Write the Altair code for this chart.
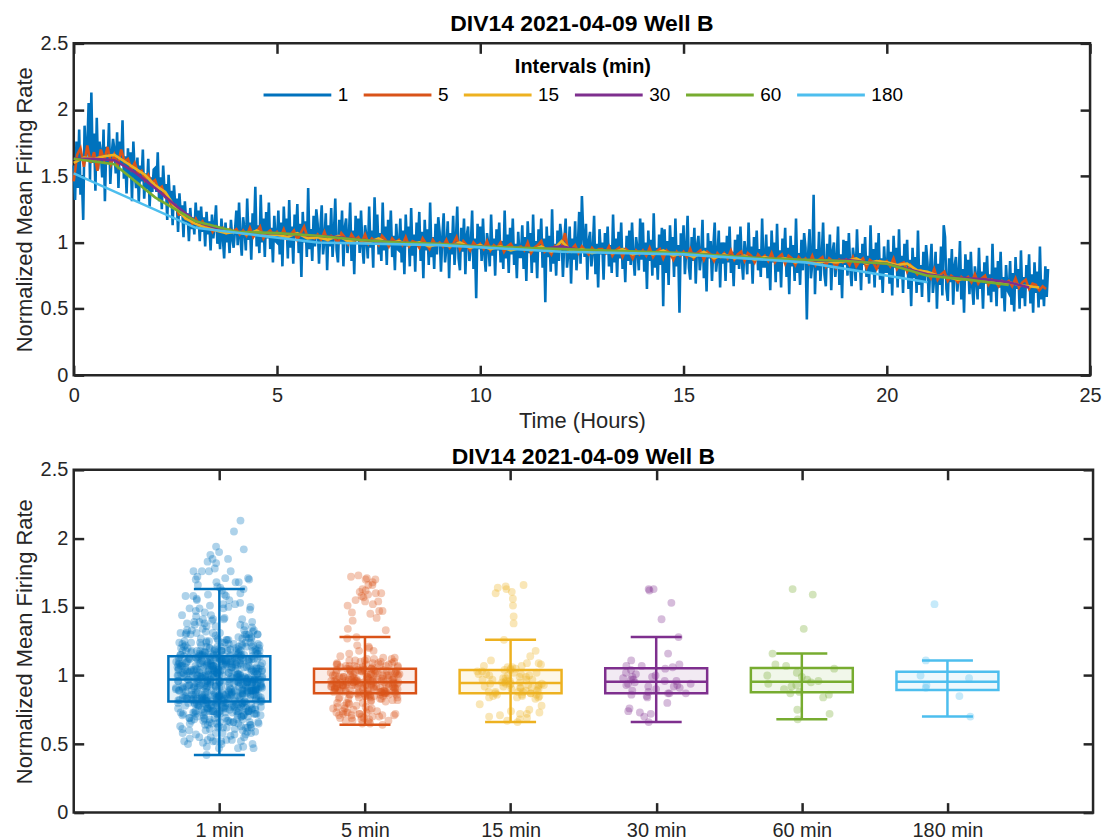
import altair as alt
import pandas as pd

FONT = "Liberation Sans"
AX = "#262626"

# ---------------- data ----------------
interval_labels = ["1", "5", "15", "30", "60", "180"]
box_labels = ["1 min", "5 min", "15 min", "30 min", "60 min", "180 min"]
sample_minutes = [2, 5, 15, 30, 60, 180]
colors = ["#0072BD", "#D95319", "#EDB120", "#7E2F8E", "#77AC30", "#4DBEEE"]
x_ticks_top = [0, 5, 10, 15, 20, 25]
y_ticks = [0, 0.5, 1, 1.5, 2, 2.5]
title_text = "DIV14 2021-04-09 Well B"

# normalized mean firing rate, in hundredths
mfr_1min = [
    158, 132, 176, 141, 185, 136, 150, 117, 188, 162, 171, 205, 147, 213, 160, 182, 139, 194, 155, 176, 168, 149, 185, 131, 172, 159, 190, 144, 166, 178,
    170, 152, 183, 141, 176, 159, 192, 148, 165, 137, 171, 150, 168, 131, 176, 153, 141, 164, 130, 158, 146, 170, 133, 152, 140, 163, 127, 149, 138, 155,
    156, 138, 168, 131, 149, 125, 158, 139, 144, 117, 151, 131, 139, 113, 143, 126, 133, 108, 137, 120, 128, 104, 131, 115, 122, 101, 126, 110, 119, 106,
    130, 112, 124, 101, 127, 108, 119, 97, 123, 106, 116, 94, 121, 103, 113, 128, 99, 111, 95, 118, 104, 88, 115, 100, 110, 92, 117, 103, 96, 109,
    124, 98, 130, 104, 90, 119, 110, 94, 133, 102, 115, 87, 122, 106, 142, 97, 113, 92, 136, 100, 118, 89, 123, 103, 130, 95, 111, 85, 120, 101,
    100, 124, 91, 115, 82, 127, 103, 118, 88, 132, 96, 112, 84, 121, 104, 129, 92, 114, 74, 123, 100, 116, 89, 141, 95, 110, 86, 120, 97, 125,
    114, 84, 110, 128, 91, 102, 122, 79, 113, 97, 126, 89, 107, 133, 94, 85, 117, 99, 124, 82, 111, 118, 92, 103, 130, 86, 109, 76, 120, 101,
    118, 92, 124, 98, 84, 113, 104, 88, 127, 96, 109, 81, 134, 100, 121, 91, 107, 86, 130, 94, 112, 83, 117, 97, 124, 89, 105, 79, 114, 95,
    94, 118, 85, 109, 76, 121, 97, 112, 82, 126, 90, 106, 78, 115, 98, 123, 86, 108, 73, 117, 94, 110, 83, 130, 89, 104, 80, 114, 91, 119,
    108, 78, 104, 122, 85, 96, 116, 73, 107, 91, 120, 83, 101, 127, 88, 79, 111, 93, 118, 76, 105, 112, 86, 97, 124, 80, 103, 58, 114, 95,
    112, 86, 118, 92, 78, 107, 98, 82, 121, 90, 103, 75, 110, 94, 115, 85, 101, 80, 124, 88, 106, 77, 111, 91, 118, 83, 99, 73, 108, 89,
    89, 113, 80, 104, 71, 116, 92, 107, 77, 121, 85, 101, 73, 110, 93, 118, 81, 103, 55, 112, 89, 105, 78, 125, 84, 99, 75, 109, 86, 114,
    104, 74, 100, 118, 81, 92, 112, 69, 103, 87, 116, 79, 97, 123, 84, 135, 107, 89, 114, 72, 101, 108, 82, 93, 120, 76, 99, 66, 110, 91,
    100, 72, 107, 91, 112, 82, 98, 77, 121, 85, 103, 74, 108, 88, 115, 80, 96, 70, 105, 86, 109, 83, 115, 89, 75, 104, 95, 79, 118, 87,
    115, 78, 100, 65, 109, 86, 102, 75, 122, 81, 96, 72, 106, 83, 111, 52, 110, 77, 101, 68, 113, 89, 104, 74, 118, 82, 98, 47, 107, 90,
    113, 76, 94, 120, 81, 72, 104, 86, 111, 69, 98, 105, 79, 90, 117, 73, 96, 63, 107, 88, 101, 71, 97, 115, 78, 89, 109, 66, 100, 84,
    100, 71, 105, 85, 112, 77, 93, 67, 102, 83, 106, 80, 112, 86, 72, 101, 92, 76, 115, 84, 97, 69, 104, 88, 109, 79, 95, 74, 118, 82,
    82, 106, 73, 97, 64, 109, 85, 100, 70, 114, 78, 94, 66, 103, 86, 111, 74, 96, 61, 105, 82, 98, 71, 118, 77, 92, 68, 102, 79, 107,
    96, 42, 92, 110, 73, 84, 136, 61, 95, 79, 108, 71, 89, 115, 76, 67, 99, 81, 106, 64, 93, 100, 74, 85, 112, 68, 91, 58, 102, 83,
    101, 75, 107, 81, 67, 96, 87, 71, 110, 79, 92, 64, 99, 83, 104, 74, 90, 69, 113, 77, 95, 66, 100, 80, 107, 72, 88, 62, 97, 78,
    78, 102, 69, 93, 60, 105, 81, 96, 66, 110, 74, 90, 62, 99, 82, 102, 65, 87, 52, 96, 73, 89, 62, 109, 68, 83, 59, 93, 70, 98,
    85, 55, 81, 99, 62, 73, 93, 50, 84, 68, 97, 60, 113, 104, 65, 56, 88, 70, 95, 53, 82, 89, 63, 74, 101, 57, 80, 47, 91, 72,
    87, 61, 93, 67, 53, 82, 73, 57, 96, 65, 78, 50, 85, 69, 90, 60, 76, 55, 99, 63, 81, 52, 86, 66, 93, 58, 74, 48, 83, 64,
    62, 86, 53, 77, 48, 89, 65, 80, 50, 94, 58, 74, 52, 83, 66, 91, 54, 76, 47, 85, 62, 78, 51, 97, 57, 72, 52, 82, 59, 80,
]

mfr_5min = [
    146, 166, 171, 157, 173, 160, 168, 154, 170, 162, 172, 159,
    166, 158, 170, 161, 163, 155, 160, 152, 154, 147, 151, 145,
    147, 140, 142, 134, 133, 127, 128, 121, 122, 118, 120, 114,
    118, 113, 116, 111, 113, 108, 112, 109, 111, 107, 110, 108,
    110, 106, 109, 105, 111, 104, 108, 112, 103, 107, 109, 105,
    108, 104, 110, 103, 106, 109, 102, 107, 112, 104, 105, 103,
    106, 102, 108, 101, 105, 103, 100, 107, 104, 99, 106, 102,
    104, 100, 106, 99, 103, 101, 98, 105, 102, 97, 103, 100,
    102, 98, 104, 97, 101, 100, 96, 103, 99, 95, 102, 98,
    100, 97, 102, 96, 99, 104, 95, 101, 98, 94, 100, 97,
    99, 95, 101, 94, 98, 96, 100, 93, 97, 99, 95, 96,
    97, 94, 100, 92, 96, 98, 101, 93, 95, 91, 97, 94,
    96, 107, 93, 95, 98, 92, 97, 94, 91, 96, 93, 95,
    95, 92, 97, 90, 94, 96, 89, 95, 93, 88, 94, 91,
    94, 90, 96, 89, 93, 95, 88, 94, 92, 87, 93, 90,
    93, 89, 95, 88, 92, 94, 87, 93, 91, 86, 92, 89,
    92, 88, 94, 87, 91, 93, 86, 92, 90, 85, 91, 88,
    90, 86, 92, 85, 89, 91, 84, 90, 88, 83, 89, 86,
    88, 84, 90, 83, 87, 89, 82, 88, 86, 81, 87, 85,
    87, 83, 89, 82, 86, 88, 81, 87, 85, 80, 86, 84,
    86, 82, 88, 80, 84, 85, 78, 83, 80, 76, 79, 77,
    77, 73, 80, 72, 76, 78, 71, 75, 73, 70, 74, 72,
    74, 70, 76, 69, 73, 75, 68, 72, 71, 67, 71, 69,
    71, 67, 73, 66, 70, 72, 65, 69, 68, 64, 67, 65,
]

mfr_15min = [
    160, 164, 163, 165, 166, 161, 156, 151, 143, 138, 126, 118,
    114, 111, 109, 107, 108, 106, 109, 105, 106, 104, 107, 103,
    104, 102, 105, 101, 102, 100, 103, 99, 101, 98, 100, 97,
    99, 97, 100, 96, 98, 95, 97, 94, 96, 94, 97, 93,
    101, 93, 95, 92, 94, 92, 95, 91, 93, 91, 94, 90,
    92, 89, 93, 88, 91, 88, 90, 87, 89, 87, 88, 85,
    87, 84, 86, 85, 86, 88, 84, 86, 85, 83, 84, 79,
    78, 75, 74, 72, 73, 71, 72, 69, 70, 68, 67, 66,
]

mfr_30min = [
    163, 163, 162, 153, 141, 128, 116, 111, 108, 107, 107, 106,
    105, 104, 102, 101, 100, 99, 99, 98, 97, 96, 96, 95,
    97, 94, 94, 93, 93, 92, 92, 91, 90, 89, 88, 87,
    87, 86, 87, 85, 84, 80, 76, 74, 73, 72, 70, 66,
]

mfr_60min = [
    163, 159, 134, 116, 108, 107, 105, 102, 100, 99, 97, 96,
    95, 94, 93, 92, 90, 88, 87, 86, 84, 75, 72, 68,
]

mfr_180min = [152, 111, 100, 98, 93, 91, 85, 70]

series = [mfr_1min, mfr_5min, mfr_15min, mfr_30min, mfr_60min, mfr_180min]

rows_top, rows_box = [], []
for k, (lab, blab, step, arr) in enumerate(zip(interval_labels, box_labels, sample_minutes, series)):
    for i, v in enumerate(arr):
        rows_top.append({"t": i * step / 60.0, "v": v / 100.0, "interval": lab})
        rows_box.append({"cat": blab, "k": k, "pos": k + 1, "idx": i, "val": v / 100.0})
top_df = pd.DataFrame(rows_top)
box_df = pd.DataFrame(rows_box)


# ---------------- helpers ----------------
def make_axis(orient, values, labels=True, title=None, label_expr=None, fmt=None,
              label_pad=6, title_pad=4):
    kw = dict(orient=orient, values=values, tickSize=10, offset=-10, domain=False,
              grid=False, tickColor=AX, tickWidth=2.5, labels=labels,
              labelPadding=label_pad, labelFontSize=20, labelFont=FONT, labelColor=AX,
              labelFlush=False, labelOverlap=False,
              title=title, titleFontSize=22, titleFont=FONT, titleFontWeight="normal",
              titleColor=AX, titlePadding=title_pad)
    if label_expr is not None:
        kw["labelExpr"] = label_expr
    if fmt is not None:
        kw["format"] = fmt
    return alt.Axis(**kw)


ys = alt.Scale(domain=[0, 2.5], nice=False, zero=False)

# ---------------- top panel ----------------
xs_top = alt.Scale(domain=[0, 25], nice=False, zero=False)
col_top = alt.Scale(domain=interval_labels, range=colors)
legend = alt.Legend(
    title="Intervals (min)", orient="none", legendX=189, legendY=14,
    direction="horizontal", columns=6, titleAnchor="middle", titleOrient="top",
    symbolType="stroke", symbolSize=4624, symbolStrokeWidth=3,
    labelFontSize=19, labelFont=FONT, labelColor="#000000",
    titleFontSize=20, titleFont=FONT, titleFontWeight="bold", titleColor="#000000",
    columnPadding=8.5, labelOffset=5, padding=0, titlePadding=-18,
)

line_layers = []
for i, lab in enumerate(interval_labels):
    ax_x = make_axis("bottom", x_ticks_top, title="Time (Hours)", label_pad=10, title_pad=6) if i == 0 else None
    ax_y = make_axis("left", y_ticks, title="Normalized Mean Firing Rate", fmt="~g", title_pad=4) if i == 0 else None
    line_layers.append(
        alt.Chart(top_df)
        .transform_filter(alt.datum.interval == lab)
        .mark_line(strokeWidth=2.6)
        .encode(
            x=alt.X("t:Q", scale=xs_top, axis=ax_x),
            y=alt.Y("v:Q", scale=ys, axis=ax_y),
            color=alt.Color("interval:N", scale=col_top, legend=legend),
        )
    )

mirror_top = (
    alt.Chart(top_df)
    .transform_filter(alt.datum.interval == "180")
    .mark_point(opacity=0)
    .encode(
        x=alt.X("t:Q", scale=xs_top, axis=make_axis("top", x_ticks_top, labels=False)),
        y=alt.Y("v:Q", scale=ys, axis=make_axis("right", y_ticks, labels=False)),
    )
)

top = (
    alt.layer(*line_layers, mirror_top)
    .resolve_axis(x="independent", y="independent")
    .properties(
        width=1020, height=333,
        title=alt.TitleParams(title_text, fontSize=23, fontWeight="bold", font=FONT,
                              color="#000000", offset=-3, frame="group", anchor="middle"),
    )
)

# ---------------- bottom panel ----------------
xs_b = alt.Scale(domain=[0, 7], nice=False, zero=False)
cs_b = alt.Scale(domain=box_labels, range=colors)
label_expr = "['', " + ", ".join("'%s'" % b for b in box_labels) + "][datum.value]"
pos_ticks = list(range(1, len(box_labels) + 1))

base_b = alt.Chart(box_df)

stats = (
    base_b.transform_joinaggregate(
        q1="q1(val)", q3="q3(val)", med="median(val)", groupby=["cat"]
    )
    .transform_calculate(
        lo="datum.q1 - 1.5 * (datum.q3 - datum.q1)",
        hi="datum.q3 + 1.5 * (datum.q3 - datum.q1)",
    )
    .transform_filter("datum.val >= datum.lo && datum.val <= datum.hi")
    .transform_aggregate(
        wlo="min(val)", whi="max(val)", groupby=["cat", "pos", "q1", "q3", "med"]
    )
    .transform_calculate(
        xl="datum.pos - 0.35", xr="datum.pos + 0.35",
        cl="datum.pos - 0.175", cr="datum.pos + 0.175",
    )
)

cenc = alt.Color("cat:N", scale=cs_b, legend=None)

box = stats.mark_rect(fillOpacity=0.1, strokeWidth=2.5).encode(
    x=alt.X("xl:Q", scale=xs_b, axis=None), x2="xr:Q",
    y=alt.Y("q1:Q", scale=ys, axis=None), y2="q3:Q",
    color=cenc, stroke=alt.Stroke("cat:N", scale=cs_b, legend=None),
)
med = stats.mark_rule(strokeWidth=2.5).encode(
    x=alt.X("xl:Q", scale=xs_b, axis=None), x2="xr:Q",
    y=alt.Y("med:Q", scale=ys, axis=None), color=cenc,
)
whisk = stats.mark_rule(strokeWidth=2.5).encode(
    x=alt.X("pos:Q", scale=xs_b, axis=None),
    y=alt.Y("wlo:Q", scale=ys, axis=None), y2="whi:Q", color=cenc,
)
cap_hi = stats.mark_rule(strokeWidth=2.5).encode(
    x=alt.X("cl:Q", scale=xs_b, axis=None), x2="cr:Q",
    y=alt.Y("whi:Q", scale=ys, axis=None), color=cenc,
)
cap_lo = stats.mark_rule(strokeWidth=2.5).encode(
    x=alt.X("cl:Q", scale=xs_b, axis=None), x2="cr:Q",
    y=alt.Y("wlo:Q", scale=ys, axis=None), color=cenc,
)

points = (
    base_b.transform_joinaggregate(
        med="median(val)", q1="q1(val)", q3="q3(val)", groupby=["cat"]
    )
    .transform_calculate(hh="sin(datum.idx * 12.9898 + datum.k * 78.233) * 43758.5453")
    .transform_calculate(u="datum.hh - floor(datum.hh)")
    .transform_calculate(
        xj="datum.pos + (datum.k == 0 ? 0.30 : 0.24) * (2 * datum.u - 1) * "
           "(0.35 + 0.65 * exp(-0.5 * pow((datum.val - datum.med) / (2 * (datum.q3 - datum.q1)), 2)))"
    )
    .mark_circle(size=62, opacity=0.32)
    .encode(
        x=alt.X("xj:Q", scale=xs_b,
                axis=make_axis("bottom", pos_ticks, title=None, label_expr=label_expr, label_pad=8)),
        y=alt.Y("val:Q", scale=ys,
                axis=make_axis("left", y_ticks, title="Normalized Mean Firing Rate", fmt="~g", title_pad=4)),
        color=cenc,
    )
)

mirror_b = stats.mark_point(opacity=0).encode(
    x=alt.X("pos:Q", scale=xs_b, axis=make_axis("top", pos_ticks, labels=False)),
    y=alt.Y("med:Q", scale=ys, axis=make_axis("right", y_ticks, labels=False)),
)

bottom = (
    alt.layer(box, med, whisk, cap_hi, cap_lo, points, mirror_b)
    .resolve_axis(x="independent", y="independent")
    .properties(
        width=1023, height=344,
        title=alt.TitleParams(title_text, fontSize=23, fontWeight="bold", font=FONT,
                              color="#000000", offset=-9, frame="group", anchor="middle"),
    )
)

chart = (
    alt.vconcat(top, bottom, spacing=10)
    .resolve_scale(x="independent", y="independent", color="independent", stroke="independent")
    .properties(padding={"left": 11, "top": 10, "right": 5, "bottom": 0})
    .configure(font=FONT)
    .configure_view(stroke=AX, strokeWidth=2.5)
)

chart.save("out.html", embed_options={"renderer": "svg", "actions": False})
